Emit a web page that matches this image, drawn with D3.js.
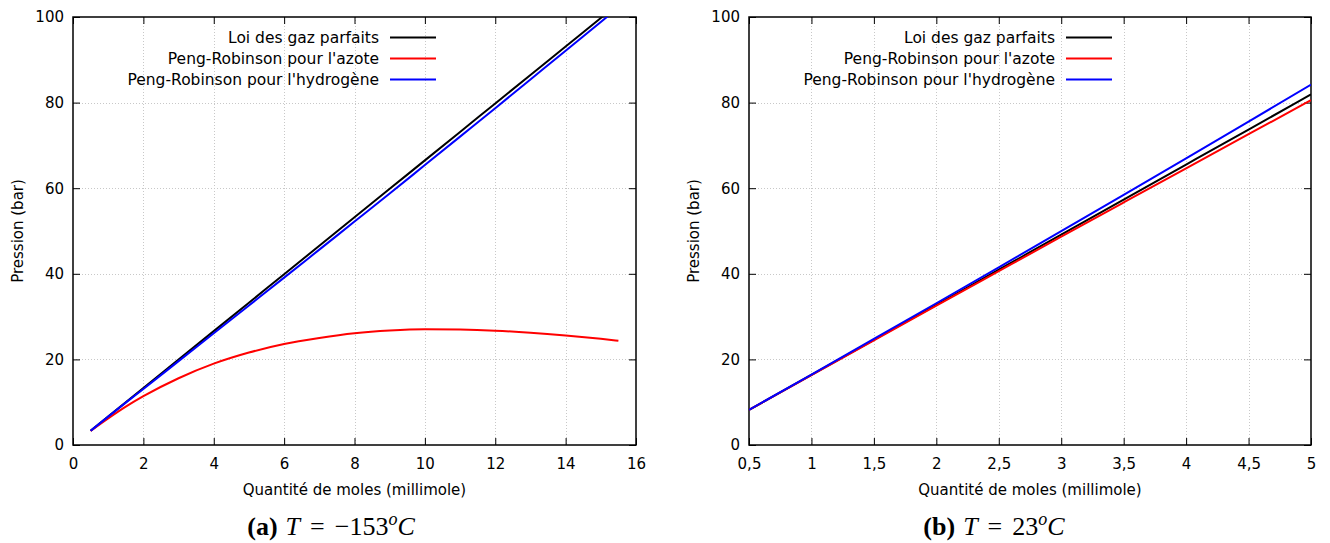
<!DOCTYPE html>
<html>
<head>
<meta charset="utf-8">
<script src="https://cdn.jsdelivr.net/npm/d3@7"></script>
<style>
  html, body { margin: 0; padding: 0; background: #fff; }
  svg { display: block; }
  .lbl { font-family: "DejaVu Sans", sans-serif; font-size: 15px; fill: #000; }
  .leg { font-family: "DejaVu Sans", sans-serif; font-size: 15.5px; fill: #000; }
  .cap { font-family: "Liberation Serif", "DejaVu Serif", serif; font-size: 26px; fill: #000; }
</style>
</head>
<body>
<svg id="chart" width="1330" height="543"></svg>
<script>
// ---------- Data ----------
const seriesNames = ["Loi des gaz parfaits", "Peng-Robinson pour l'azote", "Peng-Robinson pour l'hydrogène"];
const seriesColors = ["#000000", "#ff0000", "#0000ff"];

// (a) T = -153 °C
const nLeft     = [0.5, 1, 1.5, 2, 3, 4, 5, 6, 7, 8, 9, 10, 11, 12, 13, 14, 15, 15.5];
const idealLeft = [3.33, 6.65, 9.98, 13.3, 19.95, 26.6, 33.25, 39.9, 46.55, 53.2, 59.85, 66.5, 73.15, 79.8, 86.45, 93.1, 99.75, 103.08];
const n2Left    = [3.27, 6.2, 8.95, 11.4, 15.6, 19.0, 21.6, 23.6, 25.0, 26.1, 26.75, 27.05, 26.98, 26.72, 26.25, 25.6, 24.8, 24.35];
const h2Left    = [3.32, 6.63, 9.9, 13.1, 19.6, 26.1, 32.6, 39.1, 45.65, 52.2, 58.75, 65.4, 72.05, 78.7, 85.4, 92.1, 98.85, 102.2];

// (b) T = 23 °C
const nRight     = [0.5, 1, 1.5, 2, 2.5, 3, 3.5, 4, 4.5, 5];
const idealRight = [8.19, 16.38, 24.57, 32.76, 40.95, 49.14, 57.33, 65.52, 73.71, 81.9];
const n2Right    = [8.18, 16.33, 24.45, 32.55, 40.61, 48.66, 56.67, 64.66, 72.62, 80.56];
const h2Right    = [8.21, 16.47, 24.78, 33.12, 41.52, 49.96, 58.45, 66.98, 75.56, 84.18];

const xTicksLeft  = [0, 2, 4, 6, 8, 10, 12, 14, 16];
const xTicksRight = [0.5, 1, 1.5, 2, 2.5, 3, 3.5, 4, 4.5, 5];
const yTicks      = [0, 20, 40, 60, 80, 100];

const xTitle = "Quantité de moles (millimole)";
const yTitle = "Pression (bar)";

// ---------- Drawing ----------
const frLocale = d3.formatLocale({decimal: ",", thousands: " ", grouping: [3], currency: ["", " €"]});
const tickFmt = frLocale.format("~g");

const svg = d3.select("#chart");

const panels = [
  {id: "a", x0: 73, x1: 636, domain: [0, 16], xticks: xTicksLeft, n: nLeft, series: [idealLeft, n2Left, h2Left],
   legendRight: 379, caption: {label: "(a)", val: "−153", cx: 331}},
  {id: "b", x0: 749, x1: 1311, domain: [0.5, 5], xticks: xTicksRight, n: nRight, series: [idealRight, n2Right, h2Right],
   legendRight: 1055, caption: {label: "(b)", val: "23", cx: 994}}
];
const yTop = 17, yBot = 445;

panels.forEach(p => {
  const x = d3.scaleLinear().domain(p.domain).range([p.x0, p.x1]);
  const y = d3.scaleLinear().domain([0, 100]).range([yBot, yTop]);
  const g = svg.append("g");

  // grid
  const grid = g.append("g").attr("stroke", "#c8c8c8").attr("stroke-width", 1).attr("stroke-dasharray", "1,2");
  p.xticks.slice(1, -1).forEach(t => {
    grid.append("line").attr("x1", Math.round(x(t)) + 0.5).attr("x2", Math.round(x(t)) + 0.5).attr("y1", yTop).attr("y2", yBot);
  });
  yTicks.slice(1, -1).forEach(t => {
    grid.append("line").attr("y1", Math.round(y(t)) + 0.5).attr("y2", Math.round(y(t)) + 0.5).attr("x1", p.x0).attr("x2", p.x1);
  });

  // axes with inward ticks (mirrored)
  const axB = g.append("g").attr("transform", `translate(0,${yBot})`)
    .call(d3.axisBottom(x).tickValues(p.xticks).tickSize(-7).tickPadding(11).tickFormat(tickFmt));
  const axT = g.append("g").attr("transform", `translate(0,${yTop})`)
    .call(d3.axisTop(x).tickValues(p.xticks).tickSize(-7).tickFormat(""));
  const axL = g.append("g").attr("transform", `translate(${p.x0},0)`)
    .call(d3.axisLeft(y).tickValues(yTicks).tickSize(-7).tickPadding(11).tickFormat(tickFmt));
  const axR = g.append("g").attr("transform", `translate(${p.x1},0)`)
    .call(d3.axisRight(y).tickValues(yTicks).tickSize(-7).tickFormat(""));
  [axB, axT, axL, axR].forEach(a => {
    a.select(".domain").remove();
    a.selectAll(".tick line").attr("stroke", "#000").attr("stroke-width", 1);
    a.selectAll("text").attr("class", "lbl").attr("font-family", null).attr("font-size", null).attr("fill", "#000");
  });
  axL.selectAll("text").attr("x", -9);
  axB.selectAll("text").attr("dy", "0.71em").attr("y", 13);

  // border
  g.append("rect").attr("x", p.x0).attr("y", yTop).attr("width", p.x1 - p.x0).attr("height", yBot - yTop)
    .attr("fill", "none").attr("stroke", "#000").attr("stroke-width", 1.5);

  // clip
  const clipId = "clip-" + p.id;
  svg.append("clipPath").attr("id", clipId).append("rect")
    .attr("x", p.x0).attr("y", yTop).attr("width", p.x1 - p.x0).attr("height", yBot - yTop);

  const line = d3.line().x((d, i) => x(p.n[i])).y(d => y(d)).curve(d3.curveMonotoneX);
  const lines = g.append("g").attr("clip-path", `url(#${clipId})`);
  p.series.forEach((s, k) => {
    lines.append("path").datum(s).attr("d", line).attr("fill", "none")
      .attr("stroke", seriesColors[k]).attr("stroke-width", 2).attr("stroke-linejoin", "round");
  });

  // legend
  const lg = g.append("g");
  const rowsY = [37.5, 58.5, 79.5];
  seriesNames.forEach((name, k) => {
    lg.append("text").attr("class", "leg").attr("x", p.legendRight).attr("y", rowsY[k]).attr("dy", "0.35em")
      .attr("text-anchor", "end").text(name);
    lg.append("line").attr("x1", p.legendRight + 11).attr("x2", p.legendRight + 57).attr("y1", rowsY[k]).attr("y2", rowsY[k])
      .attr("stroke", seriesColors[k]).attr("stroke-width", 2);
  });

  // axis titles
  g.append("text").attr("class", "lbl").attr("x", (p.x0 + p.x1) / 2).attr("y", 490).attr("dy", "0.35em")
    .attr("text-anchor", "middle").text(xTitle);
  g.append("text").attr("class", "lbl").attr("transform", `translate(${p.x0 - 55},${(yTop + yBot) / 2}) rotate(-90)`)
    .attr("dy", "0.35em").attr("text-anchor", "middle").text(yTitle);

  // caption
  const cap = g.append("text").attr("class", "cap").attr("x", p.caption.cx).attr("y", 535).attr("text-anchor", "middle");
  cap.append("tspan").attr("font-weight", "bold").text(p.caption.label);
  cap.append("tspan").attr("font-style", "italic").attr("dx", 8).text("T");
  cap.append("tspan").attr("dx", 10).text("=");
  cap.append("tspan").attr("dx", 10).text(p.caption.val);
  cap.append("tspan").attr("font-style", "italic").attr("font-size", "18px").attr("dy", "-10").text("o");
  cap.append("tspan").attr("font-style", "italic").attr("dy", "10").text("C");
});
</script>
</body>
</html>
